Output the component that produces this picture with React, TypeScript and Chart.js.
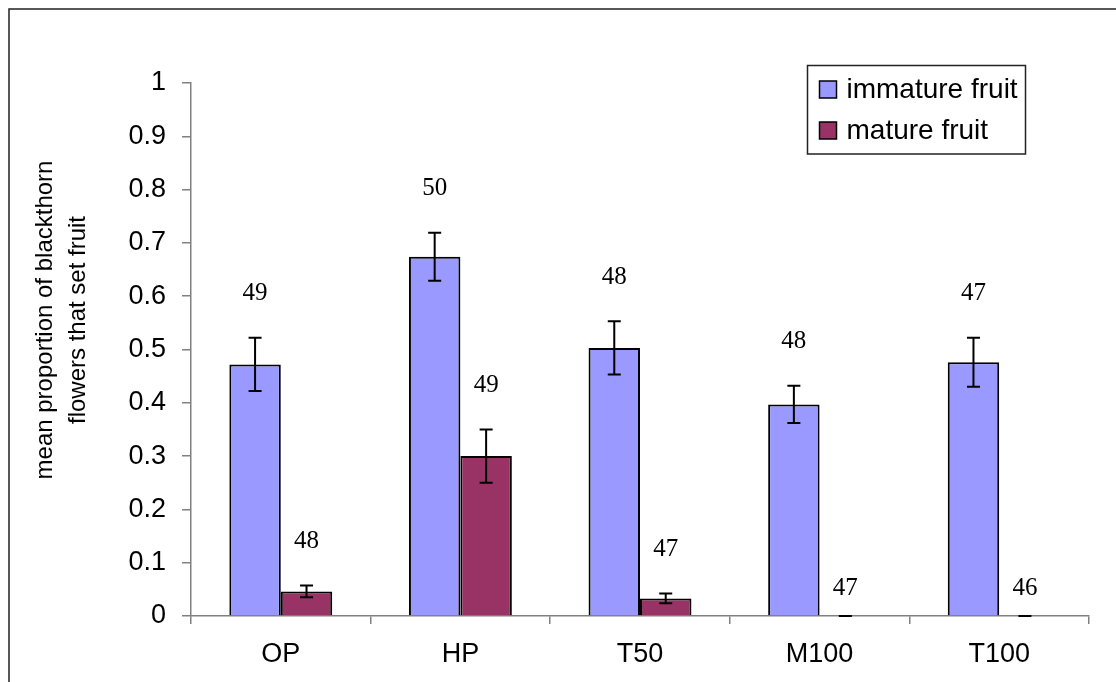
import React, { useEffect, useRef } from "react";
import { Chart, registerables } from "chart.js";

Chart.register(...registerables);

const categories = ["OP", "HP", "T50", "M100", "T100"];
const immature = [0.472, 0.674, 0.503, 0.397, 0.476];
const immatureErr = [0.05, 0.045, 0.05, 0.035, 0.046];
const mature = [0.046, 0.3, 0.033, 0, 0];
const matureErr = [0.011, 0.05, 0.009, 0, 0];
const immatureN = [49, 50, 48, 48, 47];
const matureN = [48, 49, 47, 47, 46];
const seriesNames = ["immature fruit", "mature fruit"];
const yTitle = ["mean proportion of blackthorn", "flowers that set fruit"];
const yTickLabels = ["0", "0.1", "0.2", "0.3", "0.4", "0.5", "0.6", "0.7", "0.8", "0.9", "1"];

const IMM_COLOR = "#9999FF";
const MAT_COLOR = "#993366";
const SANS = "'Liberation Sans', Arial, sans-serif";
const SERIF = "'Liberation Serif', 'Times New Roman', serif";

const errs = [immatureErr, matureErr];
const ns = [immatureN, matureN];

const decorPlugin = {
  id: "decor",
  beforeDraw(chart: any) {
    const ctx = chart.ctx;
    ctx.save();
    ctx.fillStyle = "#ffffff";
    ctx.fillRect(0, 0, chart.width, chart.height);
    ctx.strokeStyle = "#222222";
    ctx.lineWidth = 1.5;
    ctx.beginPath();
    ctx.moveTo(9, chart.height + 5);
    ctx.lineTo(9, 9);
    ctx.lineTo(chart.width + 5, 9);
    ctx.stroke();
    ctx.restore();
  },
  afterDatasetsDraw(chart: any) {
    const ctx = chart.ctx;
    const y = chart.scales.y;
    ctx.save();
    chart.data.datasets.forEach((ds: any, di: number) => {
      const meta = chart.getDatasetMeta(di);
      meta.data.forEach((el: any, i: number) => {
        const v = ds.data[i];
        const e = errs[di][i];
        const top = y.getPixelForValue(v + e);
        const bot = y.getPixelForValue(v - e);
        const x = el.x;
        ctx.strokeStyle = "#000";
        ctx.lineWidth = 2;
        ctx.beginPath();
        ctx.moveTo(x, top);
        ctx.lineTo(x, bot);
        ctx.moveTo(x - 6.5, top);
        ctx.lineTo(x + 6.5, top);
        ctx.moveTo(x - 6.5, bot);
        ctx.lineTo(x + 6.5, bot);
        ctx.stroke();
        ctx.fillStyle = "#000";
        ctx.font = `25px ${SERIF}`;
        ctx.textAlign = "center";
        ctx.textBaseline = "middle";
        const off = v > 0 ? 44 : 28;
        ctx.fillText(String(ns[di][i]), x, top - off);
      });
    });
    ctx.restore();
  },
  afterDraw(chart: any) {
    const ctx = chart.ctx;
    ctx.save();
    // legend
    ctx.strokeStyle = "#222";
    ctx.lineWidth = 1.5;
    ctx.fillStyle = "#fff";
    ctx.fillRect(807.5, 65.5, 218, 88.5);
    ctx.strokeRect(807.5, 65.5, 218, 88.5);
    const colors = [IMM_COLOR, MAT_COLOR];
    const rows = [89.5, 130.5];
    seriesNames.forEach((name, i) => {
      ctx.fillStyle = colors[i];
      ctx.fillRect(819.5, rows[i] - 8.5, 17, 17);
      ctx.strokeStyle = "#000";
      ctx.lineWidth = 1.5;
      ctx.strokeRect(819.5, rows[i] - 8.5, 17, 17);
      ctx.fillStyle = "#000";
      ctx.font = `28px ${SANS}`;
      ctx.textAlign = "left";
      ctx.textBaseline = "middle";
      ctx.fillText(name, 846.5, rows[i] + 1);
    });
    // y title
    ctx.translate(62, 320);
    ctx.rotate(-Math.PI / 2);
    ctx.fillStyle = "#000";
    ctx.font = `24px ${SANS}`;
    ctx.textAlign = "center";
    ctx.textBaseline = "middle";
    ctx.fillText(yTitle[0], 0, -16.5);
    ctx.fillText(yTitle[1], 0, 16.5);
    ctx.restore();
  },
};

export default function App() {
  const ref = useRef<HTMLCanvasElement | null>(null);
  useEffect(() => {
    document.body.style.margin = "0";
    const chart = new Chart(ref.current as HTMLCanvasElement, {
      type: "bar",
      data: {
        labels: categories,
        datasets: [
          {
            label: seriesNames[0],
            data: immature,
            backgroundColor: IMM_COLOR,
            borderColor: "#000",
            borderWidth: 2,
          },
          {
            label: seriesNames[1],
            data: mature,
            backgroundColor: MAT_COLOR,
            borderColor: "#000",
            borderWidth: 2,
          },
        ],
      },
      options: {
        animation: false,
        responsive: false,
        maintainAspectRatio: false,
        datasets: { bar: { categoryPercentage: 0.573, barPercentage: 1 } },
        layout: { padding: { top: 83, right: 27, bottom: 0, left: 0 } },
        plugins: { legend: { display: false }, tooltip: { enabled: false } },
        scales: {
          x: {
            grid: { offset: true, drawOnChartArea: false, tickLength: 8, color: "#808080", lineWidth: 1.5 },
            border: { color: "#808080", width: 1.5 },
            ticks: { font: { size: 27, family: SANS }, color: "#000", padding: 14, maxRotation: 0 },
            afterFit(scale: any) {
              scale.height = 66;
            },
          },
          y: {
            min: 0,
            max: 1,
            ticks: {
              stepSize: 0.1,
              font: { size: 27, family: SANS },
              color: "#000",
              padding: 16,
              callback: (_v: any, i: number) => yTickLabels[i],
            },
            grid: { drawOnChartArea: false, tickLength: 9, color: "#808080", lineWidth: 1.5 },
            border: { color: "#808080", width: 1.5 },
            afterFit(scale: any) {
              scale.width = 191;
            },
          },
        },
      },
      plugins: [decorPlugin],
    });
    return () => chart.destroy();
  }, []);
  return (
    <div style={{ position: "absolute", left: 0, top: 0, width: 1116, height: 682 }}>
      <canvas ref={ref} width={1116} height={682} />
    </div>
  );
}
